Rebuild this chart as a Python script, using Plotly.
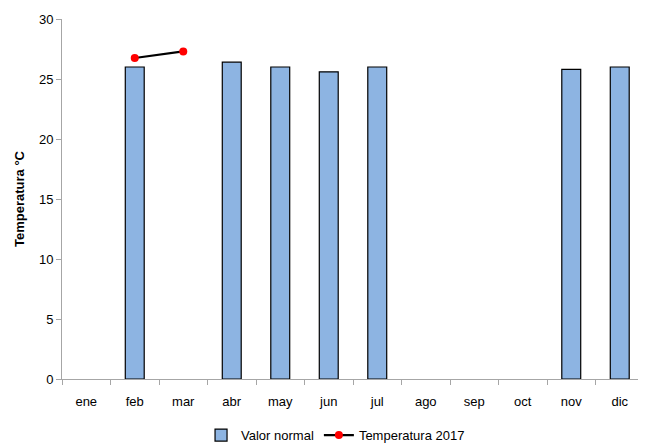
import plotly.graph_objects as go

months = ["ene", "feb", "mar", "abr", "may", "jun", "jul", "ago", "sep", "oct", "nov", "dic"]
valor_normal = [None, 26.0, None, 26.4, 26.0, 25.6, 26.0, None, None, None, 25.8, 26.0]
temp_2017 = [None, 26.75, 27.3, None, None, None, None, None, None, None, None, None]
y_ticks = [0, 5, 10, 15, 20, 25, 30]

FONT = "Liberation Sans Narrow, Liberation Sans, Arial, sans-serif"

fig = go.Figure()
fig.add_trace(go.Bar(
    x=months, y=valor_normal, name="Valor normal",
    marker=dict(color="#8DB4E2", line=dict(color="#000000", width=1.2)),
    width=0.39,
))
fig.add_trace(go.Scatter(
    x=months, y=temp_2017, name="Temperatura 2017", mode="lines+markers",
    line=dict(color="#000000", width=2.2),
    marker=dict(color="#FF0000", size=8),
    connectgaps=False,
))

fig.update_layout(
    width=638, height=436,
    margin=dict(l=54, r=2, t=11, b=65, autoexpand=False),
    paper_bgcolor="white", plot_bgcolor="white",
    font=dict(family=FONT, size=12, color="#000000"),
    showlegend=True,
    legend=dict(orientation="h", x=0.47, xanchor="center", y=-0.156, yanchor="middle",
                font=dict(family=FONT, size=13), traceorder="normal"),
)
fig.update_xaxes(
    type="category", categoryorder="array", categoryarray=months,
    range=[-0.5, 11.5], automargin=False,
    showline=True, linecolor="#A6A6A6", linewidth=1,
    ticks="outside", tickson="boundaries", ticklen=5, tickcolor="#A6A6A6",
    ticklabelstandoff=10,
    showgrid=False, zeroline=False, tickfont=dict(size=13),
)
fig.update_yaxes(
    range=[0, 30], tickvals=y_ticks, ticktext=[str(v) for v in y_ticks],
    automargin=False,
    showline=True, linecolor="#A6A6A6", linewidth=1,
    ticks="outside", ticklen=5, tickcolor="#A6A6A6",
    showgrid=False, zeroline=False, tickfont=dict(size=13),
    title=dict(text="<b>Temperatura °C</b>", font=dict(family=FONT, size=13), standoff=11),
)

fig.write_html("out.html")
